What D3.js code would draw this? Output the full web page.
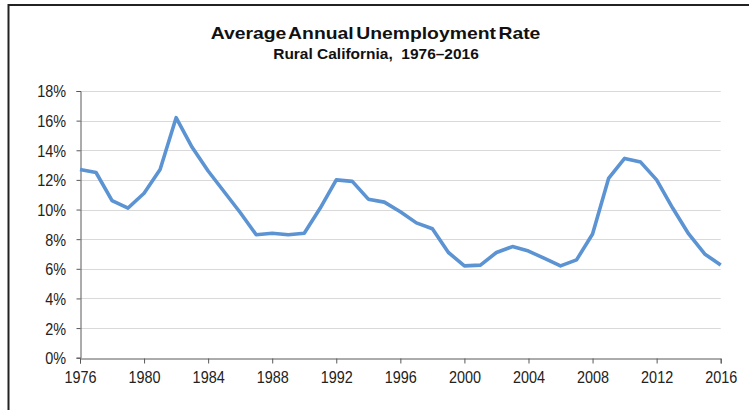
<!DOCTYPE html>
<html>
<head>
<meta charset="utf-8">
<script src="https://cdn.jsdelivr.net/npm/d3@7"></script>
<style>
  html, body { margin: 0; padding: 0; background: #fff; }
  svg { display: block; }
  text { font-family: "Liberation Sans", Arial, sans-serif; }
</style>
</head>
<body>
<svg id="chart" width="749" height="410"></svg>
<script>
const years = [1976,1977,1978,1979,1980,1981,1982,1983,1984,1985,1986,1987,1988,1989,1990,1991,1992,1993,1994,1995,1996,1997,1998,1999,2000,2001,2002,2003,2004,2005,2006,2007,2008,2009,2010,2011,2012,2013,2014,2015,2016];
const rates = [12.7,12.5,10.6,10.1,11.1,12.7,16.2,14.2,12.6,11.2,9.8,8.3,8.4,8.3,8.4,10.1,12.0,11.9,10.7,10.5,9.85,9.1,8.7,7.1,6.2,6.25,7.1,7.5,7.2,6.7,6.2,6.6,8.35,12.1,13.45,13.2,12.0,10.1,8.35,7.0,6.25];
const xTicks = [1976,1980,1984,1988,1992,1996,2000,2004,2008,2012,2016];
const yTicks = [0,2,4,6,8,10,12,14,16,18];
const titleText = "Average Annual Unemployment Rate";
const subtitleText = "Rural California,  1976\u20132016";

const svg = d3.select("#chart");

// frame (top and left border)
svg.append("line").attr("x1", 8).attr("x2", 749).attr("y1", 5).attr("y2", 5)
  .attr("stroke", "#222").attr("stroke-width", 2);
svg.append("line").attr("x1", 8.5).attr("x2", 8.5).attr("y1", 4).attr("y2", 410)
  .attr("stroke", "#222").attr("stroke-width", 2);

const x = d3.scaleLinear().domain([1976, 2016]).range([80, 720.7]);
const y = d3.scaleLinear().domain([0, 18]).range([357.7, 91]);

// gridlines
svg.append("g").selectAll("line").data(yTicks.filter(d => d > 0)).join("line")
  .attr("x1", x(1976)).attr("x2", x(2016))
  .attr("y1", d => Math.round(y(d)) + 0.5).attr("y2", d => Math.round(y(d)) + 0.5)
  .attr("stroke", "#d9d9d9").attr("stroke-width", 1);

// y axis
const yAxis = svg.append("g").attr("transform", `translate(${Math.round(x(1976)) + 0.5},0)`)
  .call(d3.axisLeft(y).tickValues(yTicks).tickFormat(d => d + "%").tickSizeOuter(0).tickSize(4));
// x axis
const xAxis = svg.append("g").attr("transform", `translate(0,${Math.round(y(0)) + 0.5})`)
  .call(d3.axisBottom(x).tickValues(xTicks).tickFormat(d3.format("d")).tickSizeOuter(0).tickSize(5));

const fs = 16.5, widthFs = 14.4;
[yAxis, xAxis].forEach(a => {
  a.select(".domain").attr("stroke", "#595959").attr("stroke-width", 1);
  a.selectAll(".tick line").attr("stroke", "#595959");
  a.selectAll(".tick text").attr("fill", "#222")
    .attr("font-size", fs)
    .attr("font-family", "'Liberation Sans', Arial, sans-serif");
});
yAxis.selectAll(".tick text").attr("x", -14.5).attr("dy", "0.36em");
xAxis.selectAll(".tick text").attr("y", 24.2).attr("dy", null);
svg.selectAll(".tick text").each(function() {
  const len = this.getComputedTextLength();
  d3.select(this).attr("textLength", len * widthFs / fs).attr("lengthAdjust", "spacingAndGlyphs");
});

// line
const line = d3.line().x((d, i) => x(years[i])).y(d => y(d));
svg.append("path").datum(rates)
  .attr("d", line)
  .attr("fill", "none")
  .attr("stroke", "#5b93d3")
  .attr("stroke-width", 3.6)
  .attr("stroke-linejoin", "round")
  .attr("stroke-linecap", "butt");

// titles: horizontally scaled to match reference widths
function scaledTitle(txt, cx, cy, size, targetW, wordSpacing) {
  const g = svg.append("g");
  const t = g.append("text").attr("x", 0).attr("y", 0).attr("text-anchor", "middle")
    .attr("font-weight", "bold").attr("font-size", size).attr("fill", "#111")
    .style("white-space", "pre").style("word-spacing", wordSpacing + "px")
    .text(txt);
  const w = t.node().getBBox().width;
  g.attr("transform", `translate(${cx},${cy}) scale(${targetW / w},1)`);
}
scaledTitle(titleText, 375.5, 38.7, 17, 330, -2.5);
scaledTitle(subtitleText, 376, 58.5, 14, 206, 0);
</script>
</body>
</html>
